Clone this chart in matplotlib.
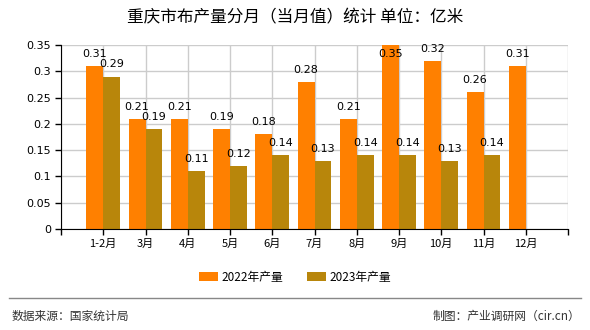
import matplotlib
matplotlib.use("Agg")
import matplotlib.pyplot as plt
import numpy as np

plt.rcParams['font.family'] = ['Noto Sans CJK SC', 'DejaVu Sans']

categories = ["1-2月", "3月", "4月", "5月", "6月", "7月", "8月", "9月", "10月", "11月", "12月"]
vals_2022 = [0.31, 0.21, 0.21, 0.19, 0.18, 0.28, 0.21, 0.35, 0.32, 0.26, 0.31]
vals_2023 = [0.29, 0.19, 0.11, 0.12, 0.14, 0.13, 0.14, 0.14, 0.13, 0.14, None]
series_names = ["2022年产量", "2023年产量"]
yticks = [0, 0.05, 0.1, 0.15, 0.2, 0.25, 0.3, 0.35]
ytick_labels = ["0", "0.05", "0.1", "0.15", "0.2", "0.25", "0.3", "0.35"]

c1 = "#FF8000"
c2 = "#B8860B"

fig = plt.figure(figsize=(5.9, 3.3), dpi=100)
ax = fig.add_axes([61/590, 1-229/330, (568-61)/590, (229-45)/330])

x = np.arange(len(categories))
w = 0.4
ax.bar(x - w/2, vals_2022, w, color=c1, label=series_names[0], zorder=3)
x2 = [xi for xi, v in zip(x, vals_2023) if v is not None]
v2 = [v for v in vals_2023 if v is not None]
ax.bar(np.array(x2) + w/2, v2, w, color=c2, label=series_names[1], zorder=3)

def lab(xp, v):
    y = v + 0.023
    if y > 0.35:
        y = v - 0.017
    ax.text(xp, y, f"{v:g}", ha='center', va='center', fontsize=8, zorder=5,
            family=['DejaVu Sans'])

for xi, v in zip(x, vals_2022):
    lab(xi - w/2, v)
for xi, v in zip(x2, v2):
    lab(xi + w/2, v)

ax.set_xlim(-1, len(categories))
ax.set_ylim(0, 0.35)
ax.set_yticks(yticks)
ax.set_yticklabels(ytick_labels, fontsize=8, family=['DejaVu Sans'])
ax.set_xticks(np.arange(-1, len(categories) + 1))
ax.set_xticklabels([""] + categories + [""], fontsize=8)
ax.tick_params(axis='both', direction='out', length=4, width=1, color='black', pad=3)
ax.grid(True, color='#cccccc', linewidth=1, zorder=0)
ax.set_axisbelow(True)
for s in ['top', 'right']:
    ax.spines[s].set_visible(False)
ax.spines['left'].set_color('black')
ax.spines['bottom'].set_color('black')
ax.spines['left'].set_zorder(4)
ax.spines['bottom'].set_zorder(4)

fig.text(0.5, 1-18/330, "重庆市布产量分月（当月值）统计 单位：亿米", ha='center', va='center', fontsize=12)

fig.legend(loc='center', bbox_to_anchor=(0.5, 1-277/330), ncol=2, frameon=False,
           fontsize=8.5, handlelength=1.6, handleheight=0.7, columnspacing=2.0, handletextpad=0.3)

fig.add_artist(plt.Line2D([9/590, 581/590], [1-298/330, 1-298/330], color='#888888', linewidth=1))
fig.text(12/590, 1-316/330, "数据来源：国家统计局", ha='left', va='center', fontsize=8.5, color='#333333')
fig.text(580/590, 1-316/330, "制图：产业调研网（cir.cn）", ha='right', va='center', fontsize=8.5, color='#333333')

fig.savefig("out.png", dpi=100)
